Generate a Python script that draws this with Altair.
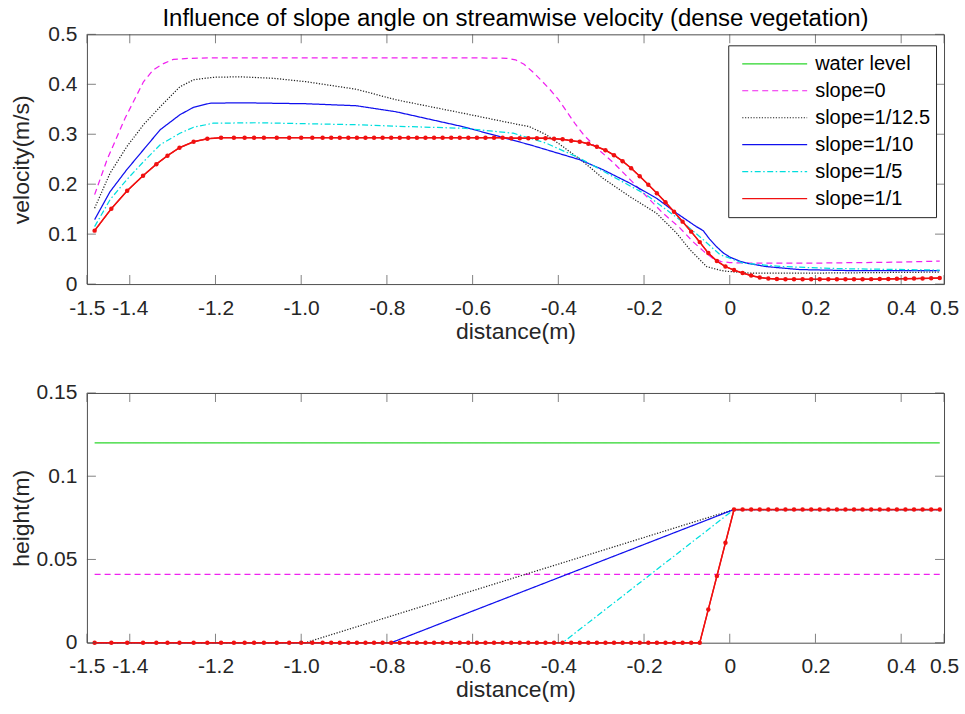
import altair as alt
import pandas as pd

FONT = "Liberation Sans"
AX = "#262626"
FRAME = "#4d4d4d"

TITLE = "Influence of slope angle on streamwise velocity (dense vegetation)"

series_names = ["water level", "slope=0", "slope=1/12.5", "slope=1/10", "slope=1/5", "slope=1/1"]
series_colors = ["#2ad62a", "#f020f0", "#222222", "#1010ee", "#00dede", "#f01010"]
series_dash = [[1, 0], [6, 4], [1.2, 1.6], [1, 0], [6, 2.5, 1.5, 2.5], [1, 0]]

xticks = [-1.5, -1.4, -1.2, -1.0, -0.8, -0.6, -0.4, -0.2, 0, 0.2, 0.4, 0.5]
yticks_top = [0, 0.1, 0.2, 0.3, 0.4, 0.5]
yticks_bot = [0, 0.05, 0.1, 0.15]

# ---------- top panel: velocity ----------
x_v0 = [-1.482, -1.453, -1.411, -1.368, -1.345, -1.32, -1.298, -1.259, -1.2, -1.0,
        -0.8, -0.6, -0.52, -0.5, -0.48, -0.46, -0.44, -0.42, -0.40, -0.38,
        -0.36, -0.34, -0.31, -0.27, -0.23, -0.19, -0.156, -0.117, -0.086, -0.06,
        -0.04, -0.02, 0.0, 0.04, 0.1, 0.2, 0.3, 0.4, 0.49]
v_v0 = [0.179, 0.249, 0.332, 0.405, 0.429, 0.442, 0.450, 0.452, 0.453, 0.453,
        0.453, 0.453, 0.452, 0.449, 0.440, 0.425, 0.408, 0.390, 0.370, 0.345,
        0.320, 0.298, 0.272, 0.242, 0.207, 0.172, 0.142, 0.113, 0.085, 0.065,
        0.052, 0.045, 0.043, 0.042, 0.042, 0.042, 0.043, 0.044, 0.046]

x_v125 = [-1.482, -1.446, -1.407, -1.368, -1.329, -1.283, -1.251, -1.205, -1.143, -1.065,
          -0.987, -0.871, -0.779, -0.622, -0.52, -0.467, -0.428, -0.389, -0.342, -0.296,
          -0.233, -0.171, -0.124, -0.093, -0.054, -0.02, 0.0, 0.046, 0.2, 0.35, 0.49]
v_v125 = [0.152, 0.222, 0.275, 0.319, 0.355, 0.395, 0.409, 0.414, 0.415, 0.412,
          0.405, 0.390, 0.369, 0.342, 0.324, 0.315, 0.299, 0.275, 0.245, 0.212,
          0.175, 0.142, 0.102, 0.069, 0.035, 0.027, 0.025, 0.022, 0.022, 0.023, 0.024]

x_v10 = [-1.482, -1.446, -1.407, -1.368, -1.329, -1.283, -1.251, -1.213, -1.143, -0.987,
         -0.871, -0.779, -0.622, -0.467, -0.35, -0.296, -0.233, -0.171, -0.124, -0.078,
         -0.062, -0.047, -0.031, -0.016, 0.0, 0.023, 0.039, 0.085, 0.163, 0.279, 0.49]
v_v10 = [0.129, 0.185, 0.229, 0.269, 0.309, 0.339, 0.354, 0.362, 0.363, 0.361,
         0.357, 0.345, 0.315, 0.279, 0.249, 0.229, 0.202, 0.172, 0.142, 0.115,
         0.107, 0.090, 0.075, 0.063, 0.054, 0.046, 0.042, 0.035, 0.029, 0.027, 0.027]

x_v5 = [-1.482, -1.446, -1.407, -1.368, -1.329, -1.283, -1.251, -1.205, -1.104, -0.871,
        -0.779, -0.622, -0.505, -0.428, -0.35, -0.272, -0.195, -0.117, -0.062, -0.023,
        0.031, 0.124, 0.25, 0.49]
v_v5 = [0.115, 0.169, 0.209, 0.245, 0.279, 0.302, 0.314, 0.322, 0.323, 0.319,
        0.316, 0.312, 0.302, 0.282, 0.252, 0.215, 0.179, 0.129, 0.089, 0.059,
        0.042, 0.035, 0.031, 0.028]

# slope=1/1 (marker series, shared x positions for both panels)
x_red = [-1.482, -1.443, -1.406, -1.369, -1.338, -1.312, -1.284, -1.251, -1.219, -1.187,
         -1.157, -1.132, -1.11, -1.087, -1.057, -1.028, -1.0, -0.974, -0.95, -0.93,
         -0.91, -0.89, -0.87, -0.85, -0.83, -0.81, -0.79, -0.77, -0.75, -0.73,
         -0.71, -0.69, -0.67, -0.65, -0.63, -0.61, -0.59, -0.57, -0.55, -0.53,
         -0.51, -0.49, -0.47, -0.45, -0.43, -0.41, -0.39, -0.37, -0.35, -0.33,
         -0.31, -0.29, -0.27, -0.25, -0.23, -0.21, -0.19, -0.17, -0.15, -0.13,
         -0.11, -0.09, -0.07, -0.05, -0.03, -0.01, 0.01, 0.03, 0.05, 0.07,
         0.09, 0.11, 0.13, 0.15, 0.17, 0.19, 0.21, 0.23, 0.25, 0.27,
         0.29, 0.31, 0.33, 0.35, 0.37, 0.39, 0.41, 0.43, 0.45, 0.47,
         0.49]
v_red = [0.107, 0.151, 0.187, 0.217, 0.240, 0.257, 0.273, 0.285, 0.291, 0.293,
         0.293, 0.293, 0.293, 0.293, 0.293, 0.293, 0.293, 0.293, 0.293, 0.293,
         0.293, 0.293, 0.293, 0.293, 0.293, 0.293, 0.293, 0.293, 0.293, 0.293,
         0.293, 0.293, 0.293, 0.293, 0.293, 0.293, 0.293, 0.293, 0.293, 0.293,
         0.292, 0.292, 0.292, 0.292, 0.292, 0.291, 0.290, 0.287, 0.285, 0.281,
         0.275, 0.268, 0.258, 0.246, 0.232, 0.216, 0.199, 0.182, 0.164, 0.145,
         0.125, 0.105, 0.084, 0.062, 0.046, 0.035, 0.028, 0.022, 0.017, 0.013,
         0.011, 0.010, 0.0095, 0.0095, 0.0095, 0.0095, 0.0095, 0.0095, 0.0095, 0.0095,
         0.0095, 0.0097, 0.0099, 0.0101, 0.0103, 0.0105, 0.0108, 0.011, 0.0113, 0.0117,
         0.012]

# ---------- bottom panel: height ----------
x_hwl = [-1.482, 0.49]
h_hwl = [0.12, 0.12]
x_h0 = [-1.482, 0.49]
h_h0 = [0.041, 0.041]
x_h125 = [-1.482, -0.99, 0.01, 0.49]
h_h125 = [0.0, 0.0, 0.08, 0.08]
x_h10 = [-1.482, -0.79, 0.01, 0.49]
h_h10 = [0.0, 0.0, 0.08, 0.08]
x_h5 = [-1.482, -0.39, 0.01, 0.49]
h_h5 = [0.0, 0.0, 0.08, 0.08]
h_red = [0, 0, 0, 0, 0, 0, 0, 0, 0, 0,
         0, 0, 0, 0, 0, 0, 0, 0, 0, 0,
         0, 0, 0, 0, 0, 0, 0, 0, 0, 0,
         0, 0, 0, 0, 0, 0, 0, 0, 0, 0,
         0, 0, 0, 0, 0, 0, 0, 0, 0, 0,
         0, 0, 0, 0, 0, 0, 0, 0, 0, 0,
         0, 0, 0, 0.02, 0.04, 0.06, 0.08, 0.08, 0.08, 0.08,
         0.08, 0.08, 0.08, 0.08, 0.08, 0.08, 0.08, 0.08, 0.08, 0.08,
         0.08, 0.08, 0.08, 0.08, 0.08, 0.08, 0.08, 0.08, 0.08, 0.08,
         0.08]


def long_table(names, xs_list, ys_list):
    rows = []
    for n, xs, ys in zip(names, xs_list, ys_list):
        for a, b in zip(xs, ys):
            rows.append({"series": n, "x": a, "y": b})
    return pd.DataFrame(rows)


top_df = long_table(series_names[1:], [x_v0, x_v125, x_v10, x_v5, x_red],
                    [v_v0, v_v125, v_v10, v_v5, v_red])
bot_df = long_table(series_names, [x_hwl, x_h0, x_h125, x_h10, x_h5, x_red],
                    [h_hwl, h_h0, h_h125, h_h10, h_h5, h_red])
red_top = pd.DataFrame({"x": x_red, "y": v_red})
red_bot = pd.DataFrame({"x": x_red, "y": h_red})
xt_df = pd.DataFrame({"t": xticks})
yt_top_df = pd.DataFrame({"t": yticks_top})
yt_bot_df = pd.DataFrame({"t": yticks_bot})

W, H = 858, 250
TL = 9

xscale = alt.Scale(domain=[-1.5, 0.5], nice=False, zero=False)


def xaxis():
    return alt.Axis(values=xticks, title="distance(m)",
                    labelExpr="datum.value == 0 ? '0' : (datum.value < 0 ? '-' : '') + format(abs(datum.value), '.1f')",
                    ticks=False, tickSize=0, domain=False, grid=False,
                    labelFlush=False, labelOverlap=False,
                    labelFontSize=21, labelFont=FONT, labelColor=AX, labelPadding=13,
                    titleFontSize=23, titleFont=FONT, titleFontWeight="normal",
                    titleColor=AX, titleY=36)


def yaxis(vals, title, expr):
    return alt.Axis(values=vals, title=title, labelExpr=expr,
                    ticks=False, tickSize=0, domain=False, grid=False,
                    labelFlush=False, labelOverlap=False,
                    labelFontSize=21, labelFont=FONT, labelColor=AX, labelPadding=10,
                    titleFontSize=23, titleFont=FONT, titleFontWeight="normal",
                    titleColor=AX, titleX=-58, titleBaseline="alphabetic")


def panel(df, reddf, ydom, yvals, ytitle, yexpr, ytdf, with_legend):
    yscale = alt.Scale(domain=ydom, nice=False, zero=False)
    xa = xaxis()
    ya = yaxis(yvals, ytitle, yexpr)
    if with_legend:
        leg = alt.Legend(title=None, orient="none", legendX=642, legendY=11,
                         symbolType="stroke", symbolSize=4225, symbolStrokeWidth=1.2,
                         labelFontSize=20, labelFont=FONT, labelColor="black",
                         fillColor="white", strokeColor=AX, padding=5,
                         symbolOffset=8, labelOffset=7, clipHeight=27, rowPadding=0,
                         labelLimit=300)
    else:
        leg = None
    lines = alt.Chart(df).mark_line(strokeWidth=1.25).encode(
        x=alt.X("x:Q", scale=xscale, axis=xa),
        y=alt.Y("y:Q", scale=yscale, axis=ya),
        color=alt.Color("series:N", scale=alt.Scale(domain=series_names, range=series_colors),
                        legend=leg),
        strokeDash=alt.StrokeDash("series:N",
                                  scale=alt.Scale(domain=series_names, range=series_dash),
                                  legend=leg),
    )
    redline = alt.Chart(reddf).mark_line(strokeWidth=1.5, color="#f01010").encode(
        x=alt.X("x:Q", scale=xscale, axis=xa),
        y=alt.Y("y:Q", scale=yscale, axis=ya),
    )
    pts = alt.Chart(reddf).mark_point(filled=True, size=20, color="#f01010", opacity=1).encode(
        x=alt.X("x:Q", scale=xscale, axis=xa),
        y=alt.Y("y:Q", scale=yscale, axis=ya),
    )
    tb = alt.Chart(xt_df).mark_tick(orient="vertical", size=TL, thickness=1, color=FRAME).encode(
        x=alt.X("t:Q", scale=xscale, axis=xa), y=alt.value(H - TL / 2))
    tt = alt.Chart(xt_df).mark_tick(orient="vertical", size=TL, thickness=1, color=FRAME).encode(
        x=alt.X("t:Q", scale=xscale, axis=xa), y=alt.value(TL / 2))
    tl = alt.Chart(ytdf).mark_tick(orient="horizontal", size=TL, thickness=1, color=FRAME).encode(
        y=alt.Y("t:Q", scale=yscale, axis=ya), x=alt.value(TL / 2))
    tr = alt.Chart(ytdf).mark_tick(orient="horizontal", size=TL, thickness=1, color=FRAME).encode(
        y=alt.Y("t:Q", scale=yscale, axis=ya), x=alt.value(W - TL / 2))
    return alt.layer(lines, redline, pts, tb, tt, tl, tr).properties(width=W, height=H)


top = panel(top_df, red_top, [0, 0.5], yticks_top, "velocity(m/s)",
            "datum.value == 0 ? '0' : format(datum.value, '.1f')", yt_top_df, True).properties(
    title=alt.Title(TITLE, fontSize=24, font=FONT, fontWeight="normal", color="black",
                    anchor="middle", offset=-8))
bottom = panel(bot_df, red_bot, [0, 0.15], yticks_bot, "height(m)",
               "datum.value == 0 ? '0' : format(datum.value, '~g')", yt_bot_df, False)

chart = alt.vconcat(top, bottom, spacing=109, bounds="flush").resolve_scale(
    color="independent", strokeDash="independent"
).properties(
    padding={"left": 10, "top": 6, "right": 5, "bottom": 5},
    background="white",
).configure_view(stroke=FRAME, strokeWidth=1)

chart.save("out.html", embed_options={"renderer": "svg", "actions": False})
